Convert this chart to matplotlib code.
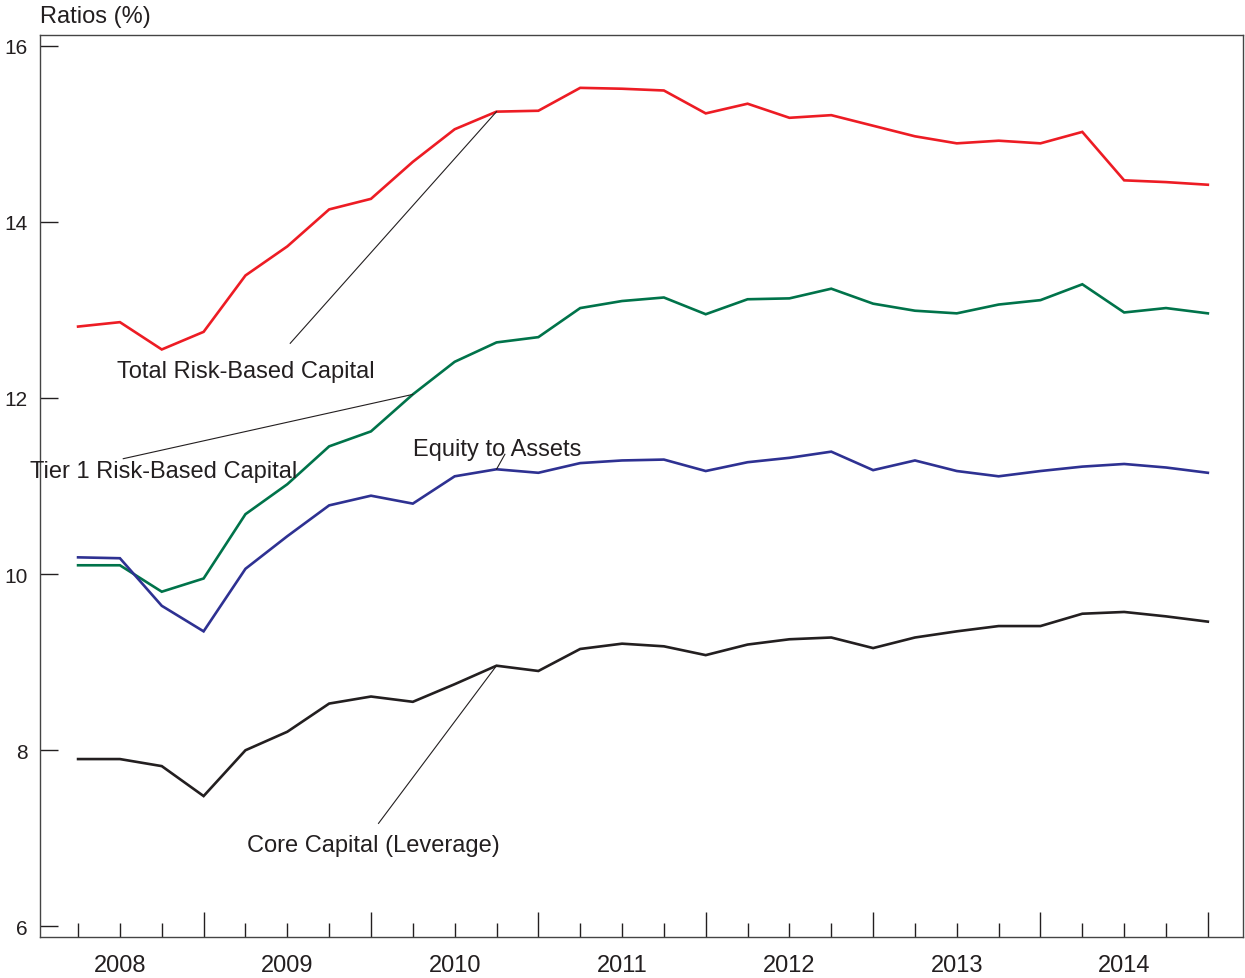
import numpy as np
import matplotlib
matplotlib.use("Agg")
import matplotlib.pyplot as plt
from matplotlib.transforms import blended_transform_factory

# quarterly values, Q1 2008 .. Q4 2014
years = ["2008", "2009", "2010", "2011", "2012", "2013", "2014"]
total_rbc = [12.81, 12.86, 12.55, 12.75, 13.39, 13.72, 14.14, 14.26,
             14.68, 15.05, 15.25, 15.26, 15.52, 15.51, 15.49, 15.23,
             15.34, 15.18, 15.21, 15.09, 14.97, 14.89, 14.92, 14.89,
             15.02, 14.47, 14.45, 14.42]
tier1_rbc = [10.10, 10.10, 9.80, 9.95, 10.68, 11.02, 11.45, 11.62,
             12.04, 12.41, 12.63, 12.69, 13.02, 13.10, 13.14, 12.95,
             13.12, 13.13, 13.24, 13.07, 12.99, 12.96, 13.06, 13.11,
             13.29, 12.97, 13.02, 12.96]
equity_assets = [10.19, 10.18, 9.64, 9.35, 10.06, 10.43, 10.78, 10.89,
                 10.80, 11.11, 11.19, 11.15, 11.26, 11.29, 11.30, 11.17,
                 11.27, 11.32, 11.39, 11.18, 11.29, 11.17, 11.11, 11.17,
                 11.22, 11.25, 11.21, 11.15]
core_capital = [7.90, 7.90, 7.82, 7.48, 8.00, 8.21, 8.53, 8.61,
                8.55, 8.75, 8.96, 8.90, 9.15, 9.21, 9.18, 9.08,
                9.20, 9.26, 9.28, 9.16, 9.28, 9.35, 9.41, 9.41,
                9.55, 9.57, 9.52, 9.46]

TXT = "#231f20"
plt.rcParams["font.family"] = ["Liberation Sans", "DejaVu Sans"]

fig = plt.figure(figsize=(12.45, 9.79), dpi=100)
ax = fig.add_axes([40 / 1245, 41 / 979, 1203 / 1245, 902 / 979])

x = np.arange(len(total_rbc))
ax.plot(x, total_rbc, color="#ed1c24", lw=1.9, solid_joinstyle="miter")
ax.plot(x, tier1_rbc, color="#00734a", lw=1.9, solid_joinstyle="miter")
ax.plot(x, equity_assets, color="#2e3192", lw=1.9, solid_joinstyle="miter")
ax.plot(x, core_capital, color=TXT, lw=1.9, solid_joinstyle="miter")

ax.set_xlim(-0.91, 27.84)
ax.set_ylim(5.88, 16.12)

for s in ax.spines.values():
    s.set_color("#444444")
    s.set_linewidth(1.0)

ax.set_yticks([6, 8, 10, 12, 14, 16])
ax.tick_params(axis="y", direction="in", length=13, pad=9, labelsize=15,
               colors=TXT, width=1)

year_end = [i for i in x if i % 4 == 3]
quarters = [i for i in x if i % 4 != 3]
ax.set_xticks(year_end)
ax.set_xticklabels([])
ax.set_xticks(quarters, minor=True)
ax.tick_params(axis="x", which="major", direction="in", length=18, width=1,
               colors=TXT)
ax.tick_params(axis="x", which="minor", direction="in", length=10, width=1,
               colors=TXT)

trans = blended_transform_factory(ax.transData, ax.transAxes)
for k, yr in enumerate(years):
    ax.text(4 * k + 1, -0.019, yr, transform=trans, ha="center", va="top",
            fontsize=17, color=TXT)

fig.text(40 / 1245, 1 - 17 / 979, "Ratios (%)", ha="left", va="center",
         fontsize=17, color=TXT)

# labels with leader lines
lead = dict(color=TXT, lw=0.8)
ax.plot([5.07, 10], [12.62, total_rbc[10]], **lead)
ax.text(4.0, 12.31, "Total Risk-Based Capital", ha="center", va="center",
        fontsize=17, color=TXT)

ax.plot([1.08, 8], [11.31, tier1_rbc[8]], **lead)
ax.text(-1.15, 11.17, "Tier 1 Risk-Based Capital", ha="left", va="center",
        fontsize=17, color=TXT, clip_on=False)

ax.plot([10.2, 10], [11.36, equity_assets[10]], **lead)
ax.text(8.01, 11.42, "Equity to Assets", ha="left", va="center",
        fontsize=17, color=TXT)

ax.plot([7.18, 10], [7.17, core_capital[10]], **lead)
ax.text(7.06, 6.93, "Core Capital (Leverage)", ha="center", va="center",
        fontsize=17, color=TXT)

fig.savefig("out.png", dpi=100)
